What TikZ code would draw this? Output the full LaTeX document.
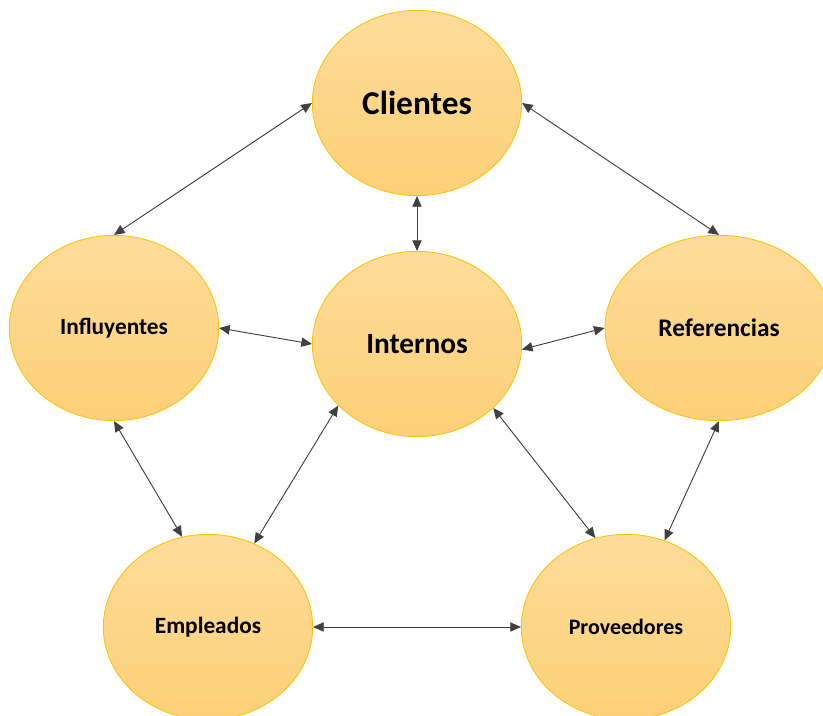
\documentclass[tikz,border=0pt]{standalone}
\usepackage{fontspec}
\setmainfont{Carlito}
\usetikzlibrary{arrows.meta,shapes.geometric}

\definecolor{bubbletop}{HTML}{FDDC9A}
\definecolor{bubblebot}{HTML}{FDD077}
\definecolor{bubbleline}{HTML}{FFC000}
\definecolor{linkgray}{HTML}{404040}

\begin{document}
\begin{tikzpicture}[
        x=0.75pt, y=-0.75pt,
        bubble/.style={ellipse, draw=bubbleline, line width=0.6pt,
          top color=bubbletop, bottom color=bubblebot,
          minimum width=157pt, minimum height=139pt, inner sep=0pt,
          font=\bfseries, text=black},
        link/.style={{Triangle[length=8pt,width=7pt]}-{Triangle[length=8pt,width=7pt]},
          draw=linkgray, line width=0.7pt}
      ]
        \clip (0,0) rectangle (823,716);
        \node[bubble, font=\bfseries\fontsize{25}{30}\selectfont] (clientes) at (417,103) {Clientes};
        \node[bubble, font=\bfseries\fontsize{22}{26}\selectfont] (internos) at (417,344) {Internos};
        \node[bubble, font=\bfseries\fontsize{17.5}{21}\selectfont] (influyentes) at (114,328) {Influyentes};
        \node[bubble, minimum width=171pt, font=\bfseries\fontsize{19}{23}\selectfont] (referencias) at (719,328) {Referencias};
        \node[bubble, font=\bfseries\fontsize{17.5}{21}\selectfont] (empleados) at (208,627) {Empleados};
        \node[bubble, font=\bfseries\fontsize{16.5}{20}\selectfont] (proveedores) at (626,627) {Proveedores};
        \draw[link] (clientes.west) -- (influyentes.north);
        \draw[link] (clientes.east) -- (referencias.north);
        \draw[link] (clientes.south) -- (internos.north);
        \draw[link] (influyentes.east) -- (internos.west);
        \draw[link] (internos.-3) -- (referencias.west);
        \draw[link] (influyentes.south) -- (empleados.106);
        \draw[link] (internos.218) -- (empleados.61);
        \draw[link] (internos.320) -- (proveedores.109);
        \draw[link] (referencias.south) -- (proveedores.66);
        \draw[link] (empleados.east) -- (proveedores.west);
      \end{tikzpicture}
\end{document}
